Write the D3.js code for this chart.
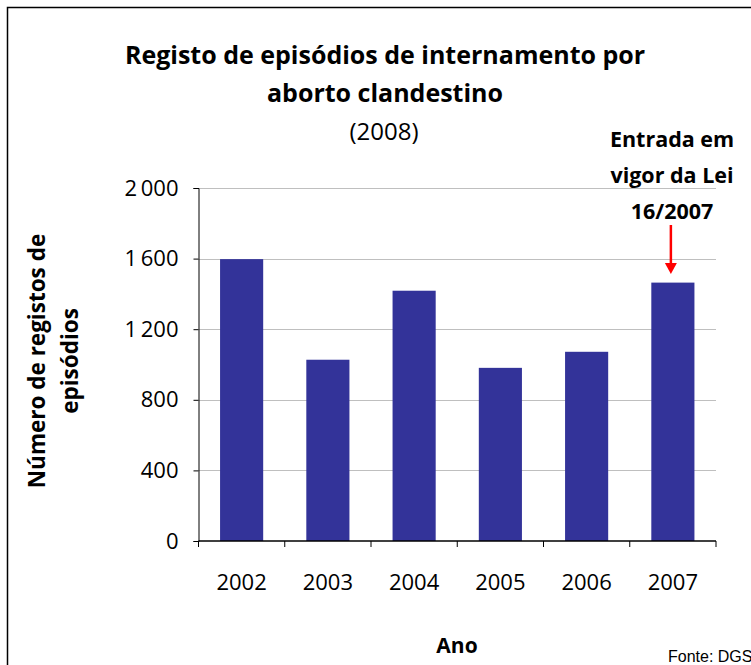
<!DOCTYPE html>
<html>
<head>
<meta charset="utf-8">
<script src="https://cdn.jsdelivr.net/npm/d3@7"></script>
<style>
  body { margin: 0; background: #fff; }
  svg text { font-family: "Open Sans", Lato, sans-serif; }
</style>
</head>
<body>
<svg id="chart" width="751" height="665"></svg>
<script>
// data
let years = ['2002', '2003', '2004', '2005', '2006', '2007'];
let episodes = [1597, 1027, 1418, 981, 1072, 1464];
let yTicks = [0, 400, 800, 1200, 1600, 2000];

let svg = d3.select('#chart');
let plotLeft = 198.5, plotRight = 716, plotTop = 188, plotBottom = 541;

// outer frame
svg.append('rect')
    .attr('x', 7.5).attr('y', 7.5)
    .attr('width', 760).attr('height', 680)
    .attr('fill', 'none').attr('stroke', '#000').attr('stroke-width', 1.5);

let x = d3.scaleBand().domain(years).range([plotLeft, plotRight]).paddingInner(0.5).paddingOuter(0.25);
let y = d3.scaleLinear().domain([0, 2000]).range([plotBottom, plotTop]);

let fmt = v => d3.format(',')(v).replace(',', '\u2009');

//gridlines
svg.append('g').selectAll('line').data(yTicks.slice(1)).join('line')
    .attr('x1', plotLeft).attr('x2', plotRight)
    .attr('y1', d => Math.round(y(d)) + 0.5).attr('y2', d => Math.round(y(d)) + 0.5)
    .attr('stroke', '#bfbfbf').attr('stroke-width', 1);

//bars
svg.append('g').selectAll('rect').data(episodes).join('rect')
    .attr('x', (d, i) => x(years[i]))
    .attr('y', d => y(d))
    .attr('width', x.bandwidth())
    .attr('height', d => y(0) - y(d))
    .attr('fill', '#333399');

//y axis
let yAxis = svg.append('g').attr('transform', `translate(${plotLeft},0)`)
    .call(d3.axisLeft(y).tickValues(yTicks).tickFormat(fmt).tickSize(5).tickPadding(15));
yAxis.select('.domain').attr('stroke', '#000');
yAxis.selectAll('text').attr('font-size', 22).attr('fill', '#000');

//x axis with ticks on category boundaries
let xg = svg.append('g').attr('transform', `translate(0,${plotBottom})`);
xg.append('line').attr('x1', plotLeft).attr('x2', plotRight).attr('stroke', '#000').attr('stroke-width', 1.5);
let bounds = d3.range(years.length + 1).map(i => plotLeft + i * (plotRight - plotLeft) / years.length);
xg.selectAll('line.tick').data(bounds).join('line').attr('class', 'tick')
    .attr('x1', d => d).attr('x2', d => d).attr('y1', 0).attr('y2', 6)
    .attr('stroke', '#000');
xg.selectAll('text').data(years).join('text')
    .attr('x', d => x(d) + x.bandwidth() / 2)
    .attr('y', 49)
    .attr('text-anchor', 'middle')
    .attr('font-size', 22)
    .text(d => d);

//titles
let titleLines = ['Registo de episódios de internamento por', 'aborto clandestino'];
svg.append('g').selectAll('text').data(titleLines).join('text')
    .attr('x', 385).attr('y', (d, i) => 64 + i * 38)
    .attr('text-anchor', 'middle').attr('font-size', 25).attr('font-weight', 'bold')
    .text(d => d);
svg.append('text').attr('x', 384).attr('y', 140)
    .attr('text-anchor', 'middle').attr('font-size', 24).text('(2008)');

let yTitle = ['Número de registos de', 'episódios'];
svg.append('g').selectAll('text').data(yTitle).join('text')
    .attr('transform', (d, i) => `translate(${45 + i * 33},361) rotate(-90)`)
    .attr('text-anchor', 'middle').attr('font-size', 22.5).attr('font-weight', 'bold')
    .text(d => d);

svg.append('text').attr('x', 457).attr('y', 653)
    .attr('text-anchor', 'middle').attr('font-size', 21).attr('font-weight', 'bold').text('Ano');

svg.append('text').attr('x', 668).attr('y', 662)
    .attr('font-size', 16)
    .style('font-family', '"Liberation Sans", Arial, sans-serif').text('Fonte: DGS');

//annotation
let note = ['Entrada em', 'vigor da Lei', '16/2007'];
svg.append('g').selectAll('text').data(note).join('text')
    .attr('x', 672).attr('y', (d, i) => 147 + i * 36)
    .attr('text-anchor', 'middle').attr('font-size', 21.5).attr('font-weight', 'bold')
    .text(d => d);
let ax = x('2007') + x.bandwidth() / 2 - 2;
svg.append('line').attr('x1', ax).attr('x2', ax).attr('y1', 225).attr('y2', 265)
    .attr('stroke', '#ff0000').attr('stroke-width', 2.5);
svg.append('path')
    .attr('d', `M${ax - 6},263 L${ax + 6},263 L${ax},274 Z`)
    .attr('fill', '#ff0000');
</script>
</body>
</html>
